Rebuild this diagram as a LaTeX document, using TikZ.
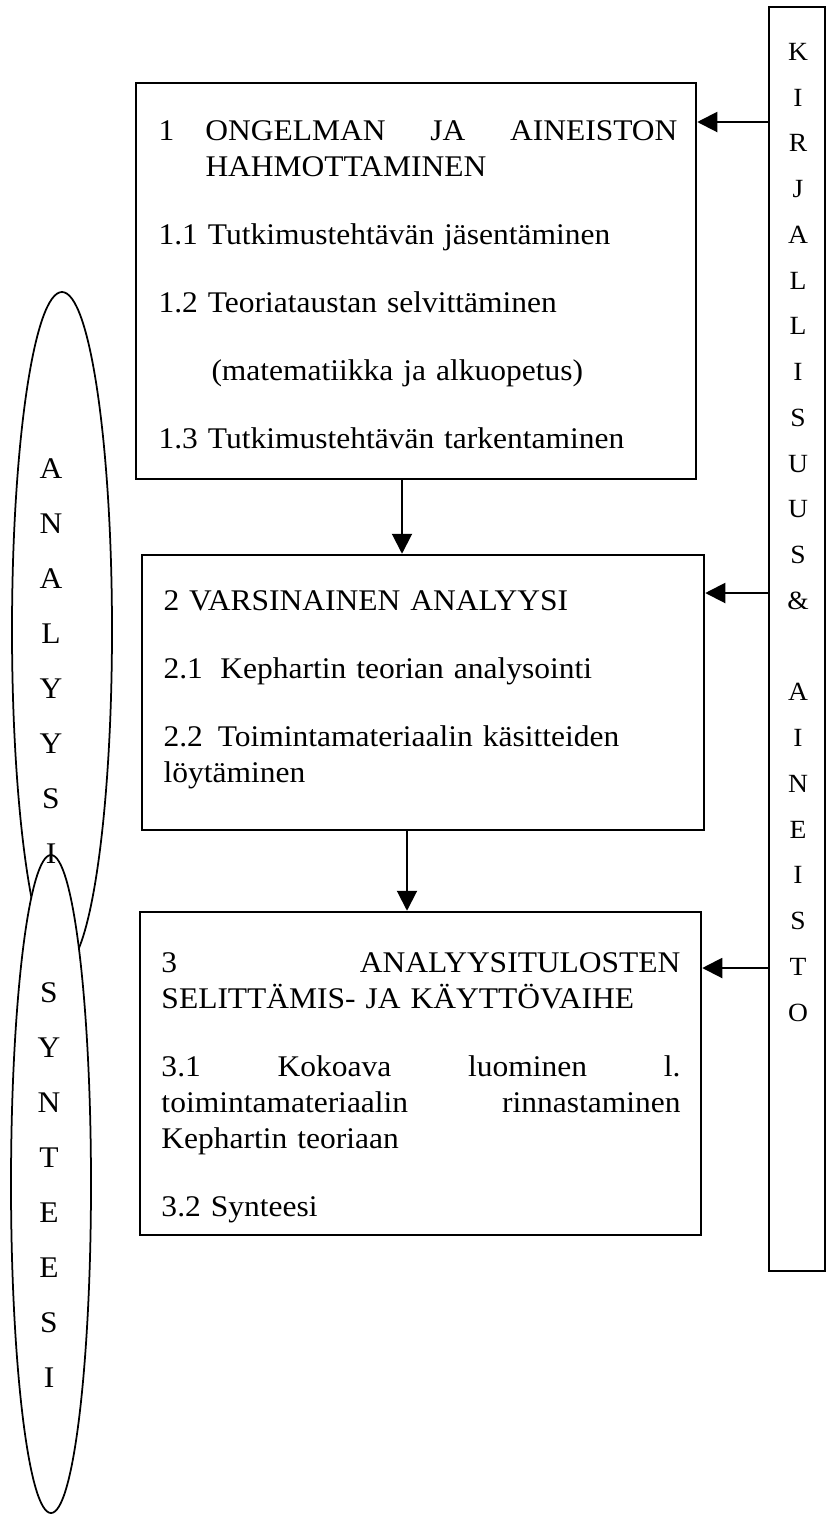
\documentclass[tikz,border=0pt]{standalone}
\usepackage{fontspec}
\setmainfont{Liberation Serif}[FakeStretch=1.05]
\usetikzlibrary{arrows.meta,shapes.geometric}
\setlength{\parindent}{0pt}
\newlength{\stagewidth}
\setlength{\stagewidth}{207.6pt}
\newcommand{\spreadline}[2][0pt]{\makebox[\dimexpr\stagewidth-#1\relax][s]{\spaceskip=0pt\xspaceskip=0pt #2}}

\begin{document}
\begin{tikzpicture}[x=0.4pt,y=-0.4pt,
  stagebox/.style={draw=black,line width=1pt,inner sep=0pt},
  stagetext/.style={anchor=north west,inner sep=0pt,text width=\stagewidth,align=left,
    font=\fontsize{12}{14.4}\selectfont},
  phase/.style={ellipse,draw=black,fill=white,line width=0.7pt,inner sep=0pt},
  letters/.style={anchor=north,inner sep=0pt,text width=20pt,align=center},
  feed/.style={line width=0.8pt,-{Triangle[length=8pt,width=8pt]}}]
\useasboundingbox (0,0) rectangle (827,1515);
% side column:
\node[draw=black,line width=0.8pt,inner sep=0pt,minimum width=22.4pt,minimum height=505.6pt] (lit) at (797,639) {};
\node[letters,font=\fontsize{10.5}{18.3}\selectfont] (litword) at (798,42.6)
  {K\\I\\R\\J\\A\\L\\L\\I\\S\\U\\U\\S\\\&\\~\\A\\I\\N\\E\\I\\S\\T\\O};
% phases:
\node[phase,minimum width=40pt,minimum height=270.4pt] (analysis) at (62,630) {};
\node[phase,minimum width=32pt,minimum height=263.2pt] (synthesis) at (51,1184) {};
\node[letters,font=\fontsize{12}{22}\selectfont] (anword) at (51,458) {A\\N\\A\\L\\Y\\Y\\S\\I};
\node[letters,font=\fontsize{12}{22}\selectfont] (synword) at (49,982) {S\\Y\\N\\T\\E\\E\\S\\I};
% stages:
\node[stagebox,minimum width=224pt,minimum height=158.4pt] (box1) at (416,281) {};
\node[stagebox,minimum width=224.8pt,minimum height=110pt] (box2) at (423,692.5) {};
\node[stagebox,minimum width=224.4pt,minimum height=129.2pt] (box3) at (420.5,1073.5) {};
\node[stagetext] (txt1) at (158,120) {%
  \makebox[18.8pt][l]{1}\spreadline[18.8pt]{ONGELMAN JA AINEISTON}\\
  \hspace*{18.8pt}HAHMOTTAMINEN\\[12.8pt]
  1.1 Tutkimustehtävän jäsentäminen\\[12.8pt]
  1.2 Teoriataustan selvittäminen\\[12.8pt]
  \hspace*{21.2pt}(matematiikka ja alkuopetus)\\[12.8pt]
  1.3 Tutkimustehtävän tarkentaminen};
\node[stagetext] (txt2) at (163,590) {%
  2 VARSINAINEN ANALYYSI\\[12.8pt]
  2.1\hspace{7pt}Kephartin teorian analysointi\\[12.8pt]
  2.2\hspace{6pt}Toimintamateriaalin käsitteiden\\
  löytäminen};
\node[stagetext] (txt3) at (161,952) {%
  \spreadline{3 ANALYYSITULOSTEN}\\
  SELITTÄMIS- JA KÄYTTÖVAIHE\\[12.8pt]
  \spreadline{3.1 Kokoava luominen l.}\\
  \spreadline{toimintamateriaalin rinnastaminen}\\
  Kephartin teoriaan\\[12.8pt]
  3.2 Synteesi};
% arrows:
\coordinate (lvl1) at (0,122);
\coordinate (lvl2) at (0,593);
\coordinate (lvl3) at (0,968);
\coordinate (drop1) at (402,0);
\coordinate (drop2) at (407,0);
\draw[feed] (lit.west |- lvl1) -- (box1.east |- lvl1);
\draw[feed] (lit.west |- lvl2) -- (box2.east |- lvl2);
\draw[feed] (lit.west |- lvl3) -- (box3.east |- lvl3);
\draw[feed] (box1.south -| drop1) -- (box2.north -| drop1);
\draw[feed] (box2.south -| drop2) -- (box3.north -| drop2);
\end{tikzpicture}
\end{document}
